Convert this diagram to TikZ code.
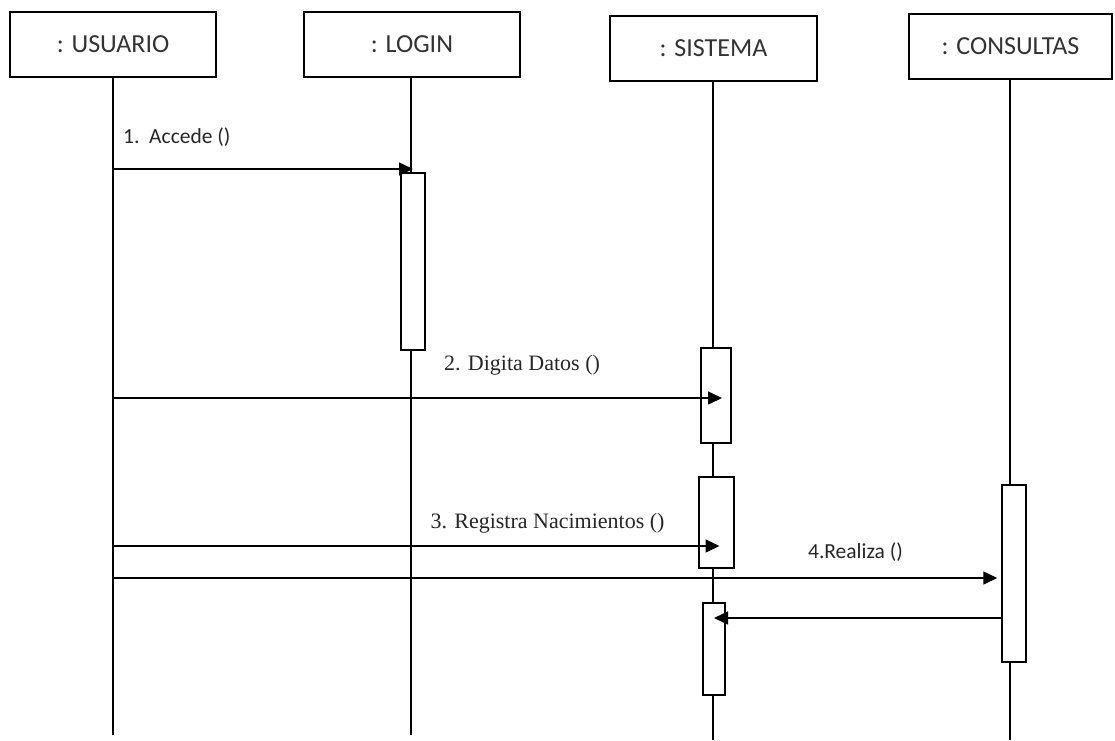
\documentclass[tikz,border=0pt]{standalone}
\usepackage{fontspec}
\setmainfont{Carlito}
\newfontfamily\tms{Liberation Serif}
\usetikzlibrary{arrows.meta}
\begin{document}
\begin{tikzpicture}[x=1pt,y=-1pt,
  head/.style={draw,line width=1.6pt,fill=white,inner sep=0pt,font=\fontsize{26}{30}\selectfont,text=black!80},
  act/.style={draw,line width=1.5pt,fill=white,inner sep=0pt,minimum width=24pt},
  life/.style={line width=1.5pt},
  msg/.style={line width=1.5pt,-{Triangle[length=14pt,width=13pt]}},
  plain/.style={line width=1.5pt},
  sanslbl/.style={font=\fontsize{21.5}{24}\selectfont,text=black!85,inner sep=0pt},
  seriflbl/.style={font=\tms\fontsize{22}{24}\selectfont,text=black!85,inner sep=0pt}
]
\useasboundingbox (0,0) rectangle (1115,740);
% headers
\node[head,minimum width=206pt,minimum height=65pt] (u) at (113,44.5) {: USUARIO};
\node[head,minimum width=216pt,minimum height=65pt] (l) at (412,44.5) {: LOGIN};
\node[head,minimum width=207pt,minimum height=65pt] (s) at (713.5,48.5) {: SISTEMA};
\node[head,minimum width=203pt,minimum height=65pt] (c) at (1010.5,46.5) {: CONSULTAS};
% lifeline ends
\coordinate (ue) at (113,735);
\coordinate (le) at (411,735);
\coordinate (se) at (713,740);
\coordinate (ce) at (1010,740);
\draw[life] (u.south) -- (ue);
\draw[life] (l.south -| le) -- (le);
\draw[life] (s.south -| se) -- (se);
\draw[life] (c.south -| ce) -- (ce);
% activations
\node[act,minimum height=177pt] (la) at (413,261.5) {};
\node[act,minimum width=30pt,minimum height=95pt] (s1) at (716,395.5) {};
\node[act,minimum width=35pt,minimum height=91pt] (s2) at (716.5,522.5) {};
\node[act,minimum width=22pt,minimum height=92pt] (s3) at (714,649) {};
\node[act,minimum height=177pt] (ca) at (1014,573.5) {};
% message starts
\coordinate (m1) at (113,169);
\coordinate (m2) at (113,398);
\coordinate (m3) at (113,546);
\coordinate (m4) at (113,578);
\coordinate (r5) at (1002,618);
\draw[msg] (m1) -- (m1 -| la.center);
\draw[msg] (m2) -- ([xshift=6pt]m2 -| s1.center);
\draw[msg] (m3) -- ([xshift=3pt]m3 -| s2.center);
\draw[msg] (m4) -- ([xshift=-4pt]m4 -| ca.west);
\draw[msg] (r5) -- (r5 -| s3.center);
% labels
\node[sanslbl,anchor=west] (t1) at (123,137) {1.\ \ Accede ()};
\node[seriflbl] (t2) at (522,365) {2. Digita Datos ()};
\node[seriflbl] (t3) at (547.5,523) {3. Registra Nacimientos ()};
\node[sanslbl] (t4) at (855.5,552) {4.Realiza ()};
\end{tikzpicture}
\end{document}
